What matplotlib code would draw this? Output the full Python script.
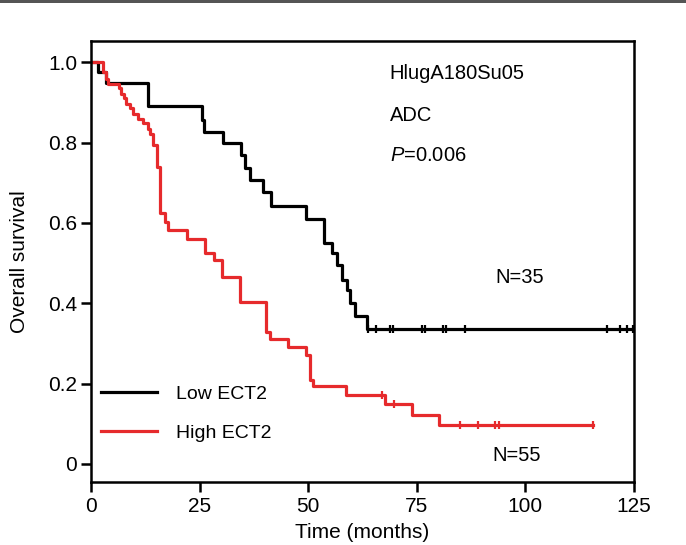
import matplotlib
matplotlib.use("Agg")
import matplotlib.pyplot as plt
from matplotlib.patches import Rectangle

plt.rcParams['font.family'] = ['Liberation Sans', 'DejaVu Sans']
plt.rcParams['mathtext.fontset'] = 'custom'
plt.rcParams['mathtext.it'] = 'Liberation Sans:italic'
plt.rcParams['mathtext.rm'] = 'Liberation Sans'

# Low ECT2 (N=35): step times (months) and survival after each step
low_times = [0, 1.6, 3.5, 13.1, 25.5, 26.1, 30.4, 34.6, 35.4, 36.5, 39.5, 41.4,
             49.5, 53.6, 55.4, 56.6, 57.7, 58.9, 59.6, 60.8, 63.5, 125]
low_surv = [1.0, 0.975, 0.948, 0.890, 0.857, 0.826, 0.798, 0.769, 0.736, 0.707,
            0.676, 0.643, 0.611, 0.551, 0.524, 0.495, 0.459, 0.433, 0.400, 0.368,
            0.337, 0.337]
low_cens = [63.8, 65.6, 68.8, 69.6, 76.1, 76.9, 81.1, 81.8, 86.1, 118.7, 121.8, 123.3, 124.7]

# High ECT2 (N=55)
high_times = [0, 2.8, 3.5, 4.0, 6.5, 7.0, 7.6, 8.1, 8.9, 9.6, 10.8, 12.0, 13.2, 13.6,
              14.3, 15.1, 15.9, 17.0, 17.8, 22.0, 26.2, 28.2, 30.1, 34.3, 40.4, 41.2,
              45.4, 49.4, 50.4, 51.2, 58.7, 67.7, 74.0, 80.0, 115.6]
high_surv = [1.0, 0.976, 0.959, 0.947, 0.935, 0.922, 0.910, 0.897, 0.885, 0.872,
             0.860, 0.850, 0.835, 0.822, 0.794, 0.740, 0.624, 0.603, 0.582, 0.561,
             0.524, 0.507, 0.466, 0.404, 0.329, 0.311, 0.292, 0.271, 0.209, 0.194,
             0.172, 0.149, 0.122, 0.097, 0.097]
high_cens = [66.9, 69.8, 84.9, 89.2, 93.0, 94.0, 115.6]

x_ticks = [0, 25, 50, 75, 100, 125]
y_ticks = [0, 0.2, 0.4, 0.6, 0.8, 1.0]
y_ticklabels = ["0", "0.2", "0.4", "0.6", "0.8", "1.0"]


def surv_at(times, surv, t):
    s = surv[0]
    for ti, si in zip(times, surv):
        if ti <= t:
            s = si
    return s


fig = plt.figure(figsize=(6.86, 5.45), dpi=100)
ax = fig.add_axes([91 / 686, 1 - 482 / 545, 543 / 686, 441 / 545])

# top border band of the original figure
fig.add_artist(Rectangle((0, 1 - 3 / 545), 1, 3 / 545, transform=fig.transFigure,
                         color="#555555", lw=0))

red = "#e62a2c"
ax.step(low_times, low_surv, where="post", color="black", lw=2.3, label="Low ECT2")
ax.step(high_times, high_surv, where="post", color=red, lw=2.3, label="High ECT2")

ax.plot(low_cens, [surv_at(low_times, low_surv, t) for t in low_cens], ls="none",
        marker="|", ms=6, mew=1.6, color="black")
ax.plot(high_cens, [surv_at(high_times, high_surv, t) for t in high_cens], ls="none",
        marker="|", ms=6, mew=1.6, color=red)

ax.set_xlim(0, 125)
ax.set_ylim(-0.045, 1.053)
ax.set_xticks(x_ticks)
ax.set_yticks(y_ticks)
ax.set_yticklabels(y_ticklabels)
ax.tick_params(direction="out", length=7, width=1.8, labelsize=15, pad=3)
ax.tick_params(axis="x", pad=4)
for sp in ax.spines.values():
    sp.set_linewidth(1.8)

ax.set_xlabel("Time (months)", fontsize=15, labelpad=5)
ax.set_ylabel("Overall survival", fontsize=15, labelpad=14)

ax.text(68.8, 0.973, "HlugA180Su05", fontsize=14.5, va="center")
ax.text(68.8, 0.868, "ADC", fontsize=14.5, va="center")
ax.text(68.8, 0.769, r"$P$=0.006", fontsize=14.5, va="center")
ax.text(93.2, 0.463, "N=35", fontsize=14.5, va="center")
ax.text(92.5, 0.022, "N=55", fontsize=14.5, va="center")

ax.legend(loc="lower left", bbox_to_anchor=(-0.01, 0.055), frameon=False, fontsize=14,
          handlelength=2.85, handletextpad=1.0, labelspacing=1.1, borderpad=0.3)

fig.savefig("out.png", dpi=100)
